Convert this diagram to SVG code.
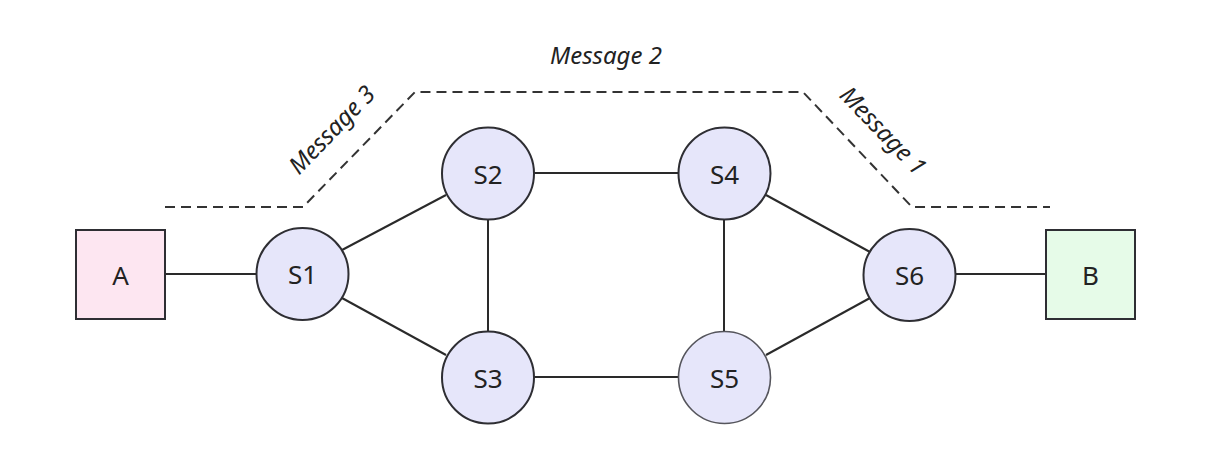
<svg xmlns="http://www.w3.org/2000/svg" width="1212" height="452" viewBox="0 0 1212 452">
<style>
.sw{fill:#e6e6fa;stroke:#2e2e33;stroke-width:2}
.ep{stroke:#2e2e33;stroke-width:2}
.lbl{font-family:"Noto Sans","Open Sans",sans-serif;font-size:26px;fill:#222;text-anchor:middle;dominant-baseline:central}
.msg{font-family:"Noto Sans","Open Sans",sans-serif;font-size:24px;font-style:italic;fill:#222;text-anchor:middle;dominant-baseline:central}
.edge{stroke:#2a2a2a;stroke-width:2;fill:none}
.dash{stroke:#333;stroke-width:2;fill:none;stroke-dasharray:10 6}
</style>
<rect width="1212" height="452" fill="#ffffff"/>
<g id="paths">
<polyline class="dash" points="165,207 303,207 415,92 803,92 912,207 1050,207"/>
<text class="msg" x="606" y="54">Message 2</text>
<text class="msg" transform="translate(331,129) rotate(-46)">Message 3</text>
<text class="msg" transform="translate(884,130) rotate(46)">Message 1</text>
</g>
<g id="edges">
<line class="edge" x1="165" y1="274" x2="256" y2="274"/>
<line class="edge" x1="342" y1="250" x2="446" y2="195"/>
<line class="edge" x1="342" y1="298" x2="446" y2="355"/>
<line class="edge" x1="534" y1="173" x2="678" y2="173"/>
<line class="edge" x1="488" y1="219" x2="488" y2="331"/>
<line class="edge" x1="534" y1="377" x2="678" y2="377"/>
<line class="edge" x1="724" y1="219" x2="724" y2="331"/>
<line class="edge" x1="766" y1="195" x2="870" y2="252"/>
<line class="edge" x1="766" y1="355" x2="870" y2="298"/>
<line class="edge" x1="956" y1="274" x2="1046" y2="274"/>
</g>
<g id="A"><rect class="ep" x="76" y="230" width="89" height="89" fill="#fde6f1"/><text class="lbl" x="120.5" y="274.5">A</text></g>
<g id="S1"><circle class="sw" cx="302.5" cy="274" r="46"/><text class="lbl" x="302.5" y="274">S1</text></g>
<g id="S2"><circle class="sw" cx="488" cy="173.5" r="46"/><text class="lbl" x="488" y="173.5">S2</text></g>
<g id="S3"><circle class="sw" cx="488" cy="377.5" r="46"/><text class="lbl" x="488" y="377.5">S3</text></g>
<g id="S4"><circle class="sw" cx="724.5" cy="173.5" r="46"/><text class="lbl" x="724.5" y="173.5">S4</text></g>
<g id="S5"><circle class="sw" cx="724.5" cy="377.5" r="46" style="stroke:#55555c;stroke-width:1.6"/><text class="lbl" x="724.5" y="377.5">S5</text></g>
<g id="S6"><circle class="sw" cx="909.5" cy="275" r="46"/><text class="lbl" x="909.5" y="275">S6</text></g>
<g id="B"><rect class="ep" x="1046" y="230" width="89" height="89" fill="#e6fbe8"/><text class="lbl" x="1090.5" y="274.5">B</text></g>
</svg>
